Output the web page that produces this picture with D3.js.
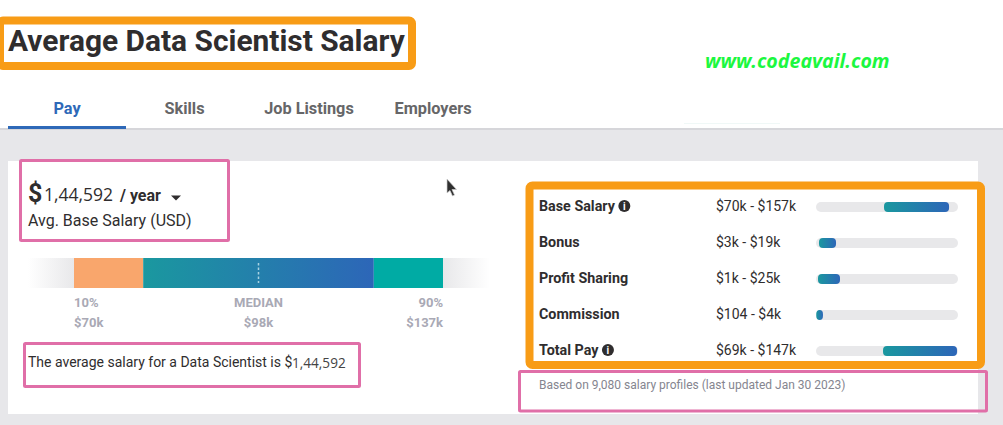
<!DOCTYPE html>
<html>
<head>
<meta charset="utf-8">
<title>Average Data Scientist Salary</title>
<script src="https://cdnjs.cloudflare.com/ajax/libs/d3/7.8.5/d3.min.js"></script>
<style>
    html, body { margin: 0; padding: 0; background: #fff; overflow: hidden; }
    svg { display: block; font-family: Roboto, sans-serif; }
</style>
</head>
<body>
<svg id="chart" width="1003" height="425"></svg>
<script>
var tabs = ['Pay', 'Skills', 'Job Listings', 'Employers'];

// percentile bar
var percentiles = [10, 25, 75, 90];
var percentileLabels = ['10%', 'MEDIAN', '90%'];
var percentileMarks = [10, 50, 90];
var percentileValues = ['$70k', '$98k', '$137k'];

// pay rows. low/high are read as percent of the grey track
var payNames = ['Base Salary', 'Bonus', 'Profit Sharing', 'Commission', 'Total Pay'];
var payRanges = ['$70k - $157k', '$3k - $19k', '$1k - $25k', '$104 - $4k', '$69k - $147k'];
var payLow = [47.9, 2.1, 1.4, 0.2, 47.2];
var payHigh = [93.7, 14.1, 16.9, 4.9, 99.3];
var payInfo = [true, false, false, false, true];

var svg = d3.select('#chart');
var defs = svg.append('defs');

function gradient(id, stops) {
    var g = defs.append('linearGradient').attr('id', id);
    stops.forEach(function (s, i) {
        g.append('stop').attr('offset', i / (stops.length - 1)).attr('stop-color', s);
    });
}
gradient('teal-blue', ['#1a989f', '#2d66b8']);
gradient('fade-in', ['#ffffff', '#e8e8ea']);
gradient('fade-out', ['#e8e8ea', '#ffffff']);

// page background and white panel
svg.append('rect').attr('x', 0).attr('y', 129).attr('width', 1003).attr('height', 296).attr('fill', '#e7e7ea');
svg.append('rect').attr('x', 0).attr('y', 128).attr('width', 1003).attr('height', 2).attr('fill', '#d6d6da');
svg.append('rect').attr('x', 684).attr('y', 123).attr('width', 96).attr('height', 1).attr('fill', '#f0f8f7');
svg.append('rect').attr('x', 8).attr('y', 161).attr('width', 970).attr('height', 253).attr('fill', '#fff');

// title
svg.append('text').attr('x', 8).attr('y', 51)
    .attr('font-size', 29.9).attr('font-weight', 700).attr('fill', '#2f2d2e')
    .text('Average Data Scientist Salary');

// watermark
svg.append('text').attr('x', 705).attr('y', 68)
    .attr('font-family', 'Open Sans').attr('font-size', 19.6).attr('font-weight', 700)
    .attr('font-style', 'italic').attr('fill', '#1cf740')
    .text('www.codeavail.com');

// tabs
var tabCentres = [67, 184.5, 309, 433];
svg.selectAll('.tab').data(tabs).enter().append('text')
    .attr('class', 'tab')
    .attr('x', function (d, i) { return tabCentres[i]; })
    .attr('y', 114)
    .attr('text-anchor', 'middle')
    .attr('font-size', 16.3).attr('font-weight', 700)
    .attr('fill', function (d, i) { return i === 0 ? '#2e69b8' : '#666668'; })
    .text(function (d) { return d; });
svg.append('rect').attr('x', 8).attr('y', 126).attr('width', 118).attr('height', 3).attr('fill', '#2e69b8');

// average salary block
svg.append('text').attr('x', 28).attr('y', 202).attr('font-size', 25).attr('font-weight', 700).attr('fill', '#2f2d2e').text('$');
svg.append('text').attr('x', 44).attr('y', 201).attr('font-size', 17.5).attr('font-family', 'Open Sans').attr('fill', '#2f2d2e').text('1,44,592');
svg.append('text').attr('x', 120).attr('y', 201).attr('font-size', 16).attr('font-weight', 700).attr('fill', '#2f2d2e').text('/ year');
svg.append('path').attr('d', 'M171,195.5 L181,195.5 L176,200.5 Z').attr('fill', '#2f2d2e');
svg.append('text').attr('x', 28).attr('y', 226).attr('font-size', 16).attr('fill', '#2f2d2e').text('Avg. Base Salary (USD)');

// percentile bar
var barX = d3.scaleLinear().domain([10, 90]).range([74, 443]);
var barY = 258, barH = 30;
svg.append('rect').attr('x', 28).attr('y', barY).attr('width', barX(10) - 28).attr('height', barH).attr('fill', 'url(#fade-in)');
svg.append('rect').attr('x', barX(90)).attr('y', barY).attr('width', 490 - barX(90)).attr('height', barH).attr('fill', 'url(#fade-out)');
var bandFill = ['#f9a66c', 'url(#teal-blue)', '#00aba4'];
svg.selectAll('.band').data(d3.pairs(percentiles)).enter().append('rect')
    .attr('class', 'band')
    .attr('x', function (d) { return barX(d[0]); })
    .attr('y', barY)
    .attr('width', function (d) { return barX(d[1]) - barX(d[0]); })
    .attr('height', barH)
    .attr('fill', function (d, i) { return bandFill[i]; });
svg.append('line')
    .attr('x1', barX(50)).attr('x2', barX(50))
    .attr('y1', barY + 5).attr('y2', barY + 25)
    .attr('stroke', '#a9d3e2').attr('stroke-width', 1.5).attr('stroke-dasharray', '2.5,2');

var anchors = ['start', 'middle', 'end'];
[[percentileLabels, 307], [percentileValues, 327]].forEach(function (row) {
    svg.selectAll(null).data(row[0]).enter().append('text')
        .attr('x', function (d, i) { return barX(percentileMarks[i]); })
        .attr('y', row[1])
        .attr('text-anchor', function (d, i) { return anchors[i]; })
        .attr('font-size', 13).attr('font-weight', 700).attr('fill', '#a9a9b5')
        .text(function (d) { return d; });
});

// sentence under the bar
svg.append('text').attr('x', 28).attr('y', 367).attr('font-size', 14).attr('fill', '#2f2d2e').text('The average salary for a Data Scientist is $');
svg.append('text').attr('x', 292).attr('y', 368).attr('font-size', 13.6).attr('font-family', 'Open Sans').attr('fill', '#444').text('1,44,592');

// pay rows
var rowY = d3.scalePoint().domain(payNames).range([207, 351]);
var trackX = d3.scaleLinear().domain([0, 100]).range([816, 958]);
var rows = svg.selectAll('.row').data(payNames).enter().append('g')
    .attr('class', 'row')
    .attr('transform', function (d) { return 'translate(0,' + rowY(d) + ')'; });

rows.append('text').attr('x', 539).attr('y', 4)
    .attr('font-size', 14.3).attr('font-weight', 700).attr('fill', '#2f2d2e')
    .text(function (d) { return d; });
rows.append('text').attr('x', 716).attr('y', 4)
    .attr('font-size', 14).attr('fill', '#2f2d2e')
    .text(function (d, i) { return payRanges[i]; });
rows.append('rect').attr('x', trackX(0)).attr('y', -5)
    .attr('width', trackX(100) - trackX(0)).attr('height', 10).attr('rx', 5)
    .attr('fill', '#e8e8ea');
rows.append('rect')
    .attr('x', function (d, i) { return trackX(payLow[i]); })
    .attr('y', -5)
    .attr('width', function (d, i) { return trackX(payHigh[i]) - trackX(payLow[i]); })
    .attr('height', 10).attr('rx', 4)
    .attr('fill', 'url(#teal-blue)');

// info icons sit right after the row name
rows.filter(function (d, i) { return payInfo[i]; }).each(function () {
    var g = d3.select(this);
    var x = 539 + g.select('text').node().getComputedTextLength() + 9.5;
    g.append('circle').attr('cx', x).attr('cy', -1).attr('r', 6).attr('fill', '#2f2d2e');
    g.append('text').attr('x', x).attr('y', 3).attr('text-anchor', 'middle')
        .attr('font-size', 10).attr('font-weight', 700).attr('fill', '#fff').text('i');
});

svg.append('text').attr('x', 539).attr('y', 389).attr('font-size', 12).attr('fill', '#85858f')
    .text('Based on 9,080 salary profiles (last updated Jan 30 2023)');

// annotation boxes
function box(x, y, w, h, colour, width, rx) {
    svg.append('rect').attr('x', x).attr('y', y).attr('width', w).attr('height', h)
        .attr('rx', rx).attr('fill', 'none').attr('stroke', colour).attr('stroke-width', width);
}
box(0, 20.5, 412, 45.5, '#f89c16', 8, 3);
box(529.5, 185.5, 451.5, 179.5, '#f89c16', 8, 3);
box(20.5, 160.5, 208, 80, '#e06fa8', 3, 1);
box(24.5, 343.5, 335, 43, '#e06fa8', 3, 1);
box(519.5, 371.5, 467, 39.5, '#e06fa8', 3, 1);

// mouse cursor from the screenshot
svg.append('path')
    .attr('d', 'M447,179 L447,193 L450,190.5 L452.5,196 L454.5,195 L452,189.5 L456.5,189.5 Z')
    .attr('fill', '#2f2f2f').attr('stroke', '#ccc').attr('stroke-width', 0.7);
</script>
</body>
</html>
